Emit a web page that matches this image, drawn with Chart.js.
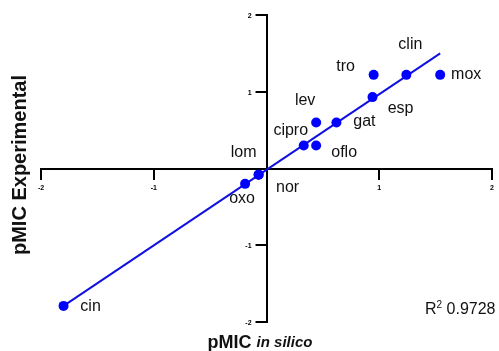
<!DOCTYPE html>
<html>
<head>
<meta charset="utf-8">
<script src="https://cdn.jsdelivr.net/npm/chart.js@4.4.0/dist/chart.umd.min.js"></script>
<style>
  body { margin: 0; background: #fff; }
  canvas { display: block; }
</style>
</head>
<body>
<canvas id="myChart" width="499" height="351"></canvas>
<script>
// data
const compounds = ['cin', 'oxo', 'lom', 'nor', 'cipro', 'oflo', 'lev', 'gat', 'esp', 'tro', 'clin', 'mox'];
const pmicInSilico = [-1.80, -0.19, -0.07, -0.07, 0.33, 0.44, 0.44, 0.62, 0.94, 0.95, 1.24, 1.54];
const pmicExperimental = [-1.79, -0.20, -0.08, -0.08, 0.30, 0.30, 0.60, 0.60, 0.93, 1.22, 1.22, 1.22];
const fitX = [-1.80, 1.54];
const fitY = [-1.79, 1.50];
const tickValues = [-2, -1, 0, 1, 2];
const r2Value = '0.9728';

// where each label sits relative to its point (px)
const labelOffsets = {
    cin: [27, 1], oxo: [-3, 15], lom: [-15, -22], nor: [29, 13],
    cipro: [-13, -15], oflo: [28, 7], lev: [-11, -22], gat: [28, -1],
    esp: [28, 11], tro: [-28, -8], clin: [4, -30], mox: [26, 0]
};

const FONT = '"Liberation Sans", Arial, sans-serif';

const points = compounds.map((c, i) => ({ x: pmicInSilico[i], y: pmicExperimental[i] }));
const fitLine = fitX.map((x, i) => ({ x: x, y: fitY[i] }));

const textPlugin = {
    id: 'textPlugin',
    afterDatasetsDraw(chart) {
        const ctx = chart.ctx;
        const xs = chart.scales.x;
        const ys = chart.scales.y;
        ctx.save();
        ctx.fillStyle = '#111';
        ctx.textAlign = 'center';
        ctx.textBaseline = 'middle';

        // compound labels
        ctx.font = '16px ' + FONT;
        compounds.forEach((name, i) => {
            const o = labelOffsets[name];
            ctx.fillText(name, xs.getPixelForValue(pmicInSilico[i]) + o[0], ys.getPixelForValue(pmicExperimental[i]) + o[1]);
        });

        // y ticks + labels, left of the centred axis
        const axisX = xs.getPixelForValue(0);
        ctx.fillStyle = '#000';
        ctx.strokeStyle = '#000';
        ctx.lineWidth = 2;
        ctx.textAlign = 'right';
        ctx.font = 'bold 7px ' + FONT;
        tickValues.forEach(v => {
            if (v === 0) return;
            const py = Math.round(ys.getPixelForValue(v));
            ctx.beginPath();
            ctx.moveTo(axisX - 11, py);
            ctx.lineTo(axisX, py);
            ctx.stroke();
            ctx.fillText(v, axisX - 15, py + 1);
        });

        // R squared
        ctx.fillStyle = '#111';
        ctx.textAlign = 'left';
        let x = 425;
        ctx.font = '16px ' + FONT;
        ctx.fillText('R', x, 310);
        x += ctx.measureText('R').width;
        ctx.font = '10px ' + FONT;
        ctx.fillText('2', x, 305);
        x += ctx.measureText('2').width;
        ctx.font = '16px ' + FONT;
        ctx.fillText(' ' + r2Value, x, 310);

        // x title
        ctx.font = 'bold 18px ' + FONT;
        const partA = 'pMIC ';
        const wA = ctx.measureText(partA).width;
        ctx.font = 'bold italic 15px ' + FONT;
        const wB = ctx.measureText('in silico').width;
        let tx = 260 - (wA + wB) / 2;
        ctx.font = 'bold 18px ' + FONT;
        ctx.fillText(partA, tx, 343);
        ctx.font = 'bold italic 15px ' + FONT;
        ctx.fillText('in silico', tx + wA, 343);

        // y title
        ctx.textAlign = 'center';
        ctx.translate(20, 165);
        ctx.rotate(-Math.PI / 2);
        ctx.font = 'bold 20px ' + FONT;
        ctx.fillText('pMIC Experimental', 0, 0);
        ctx.restore();
    }
};

new Chart(document.getElementById('myChart'), {
    type: 'scatter',
    data: {
        datasets: [
            {
                label: 'compounds',
                data: points,
                backgroundColor: '#0000ff',
                borderWidth: 0,
                pointRadius: 5,
                order: 0
            },
            {
                label: 'fit',
                type: 'line',
                data: fitLine,
                borderColor: '#1010e0',
                borderWidth: 2,
                pointRadius: 0,
                fill: false,
                order: 1
            }
        ]
    },
    options: {
        responsive: false,
        animation: false,
        layout: { padding: { left: 41, right: 1, top: 15, bottom: 29 } },
        plugins: { legend: { display: false }, tooltip: { enabled: false } },
        scales: {
            x: {
                type: 'linear',
                min: -2, max: 2,
                position: { y: 0 },
                afterBuildTicks: s => { s.ticks = tickValues.map(v => ({ value: v })); },
                afterFit: s => { s.height = 0; },
                border: { display: true, color: '#000', width: 2 },
                grid: { drawOnChartArea: false, drawTicks: true, tickLength: 10, color: '#000', lineWidth: 2 },
                ticks: {
                    padding: 5,
                    maxRotation: 0,
                    color: '#000',
                    font: { family: FONT, size: 7, weight: 'bold' },
                    callback: v => (v === 0 ? '' : v)
                }
            },
            y: {
                type: 'linear',
                min: -2, max: 2,
                position: { x: 0 },
                afterBuildTicks: s => { s.ticks = tickValues.map(v => ({ value: v })); },
                afterFit: s => { s.width = 0; },
                border: { display: true, color: '#000', width: 2 },
                grid: { display: false },
                ticks: { display: false }
            }
        }
    },
    plugins: [textPlugin]
});
</script>
</body>
</html>
